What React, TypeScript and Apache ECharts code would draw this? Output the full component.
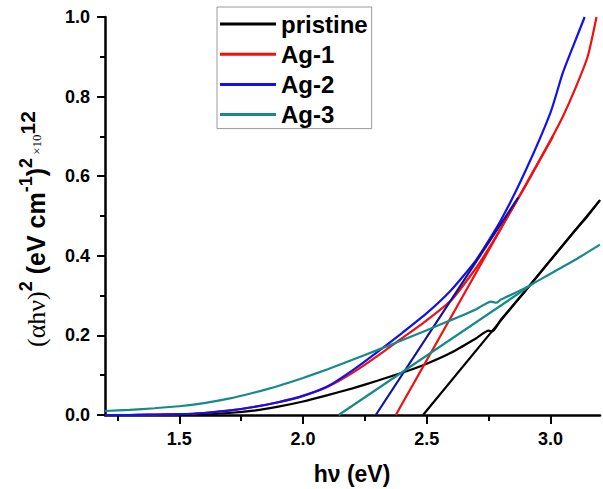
import React, { useEffect, useRef } from "react";
import * as echarts from "echarts";

// ---- data ----
const pristineE = [1.2, 1.3, 1.4, 1.5, 1.6, 1.7, 1.8, 1.9, 2.0, 2.1, 2.2, 2.3, 2.4, 2.5, 2.6, 2.7, 2.75, 2.765, 2.8, 2.9, 3.0, 3.1, 3.15, 3.2];
const pristineY = [0.0, 0.0, 0.0, 0.001, 0.002, 0.005, 0.011, 0.021, 0.034, 0.05, 0.067, 0.086, 0.106, 0.129, 0.157, 0.193, 0.212, 0.21, 0.24, 0.313, 0.389, 0.464, 0.5, 0.54];
const pristineFitE = [2.485, 3.2];
const pristineFitY = [0.0, 0.54];

const ag1E = [1.2, 1.3, 1.4, 1.5, 1.6, 1.7, 1.8, 1.9, 2.0, 2.1, 2.2, 2.3, 2.4, 2.5, 2.6, 2.7, 2.75, 2.8, 2.9, 3.0, 3.05, 3.1, 3.15, 3.186];
const ag1Y = [0.0, 0.0, 0.001, 0.002, 0.005, 0.011, 0.02, 0.032, 0.048, 0.071, 0.106, 0.148, 0.193, 0.238, 0.289, 0.37, 0.418, 0.47, 0.577, 0.69, 0.75, 0.82, 0.9, 1.0];
const ag1FitE = [2.375, 3.01];
const ag1FitY = [0.0, 0.7];

const ag2E = [1.2, 1.3, 1.4, 1.5, 1.6, 1.7, 1.8, 1.9, 2.0, 2.1, 2.2, 2.3, 2.4, 2.5, 2.6, 2.7, 2.8, 2.9, 3.0, 3.05, 3.1, 3.138];
const ag2Y = [0.0, 0.0, 0.001, 0.002, 0.005, 0.011, 0.02, 0.032, 0.048, 0.072, 0.112, 0.158, 0.206, 0.256, 0.315, 0.39, 0.49, 0.615, 0.76, 0.86, 0.94, 1.0];
const ag2FitE = [2.294, 2.87];
const ag2FitY = [0.0, 0.547];

const ag3E = [1.2, 1.3, 1.4, 1.5, 1.6, 1.7, 1.8, 1.9, 2.0, 2.1, 2.2, 2.3, 2.4, 2.5, 2.6, 2.7, 2.76, 2.78, 2.8, 2.9, 3.0, 3.1, 3.2];
const ag3Y = [0.01, 0.013, 0.017, 0.022, 0.03, 0.041, 0.056, 0.073, 0.093, 0.115, 0.139, 0.163, 0.188, 0.213, 0.239, 0.266, 0.285, 0.282, 0.29, 0.32, 0.355, 0.39, 0.428];
const ag3FitE = [2.144, 2.93];
const ag3FitY = [0.0, 0.33];

const seriesNames = ["pristine", "Ag-1", "Ag-2", "Ag-3"];
const xMajorTicks = [1.5, 2.0, 2.5, 3.0];
const xMinorTicks = [1.25, 1.75, 2.25, 2.75];

const zip = (xs: number[], ys: number[]) => xs.map((x, i) => [x, ys[i]]);

const FONT = "Liberation Sans";

export default function App() {
  const ref = useRef<HTMLDivElement>(null);

  useEffect(() => {
    if (!ref.current) return;
    const chart = echarts.init(ref.current, undefined, { renderer: "svg" });

    const curve = (name: string, data: number[][], color: string, z: number) => ({
      name,
      type: "line",
      data,
      symbol: "none",
      smooth: 0.2,
      z,
      lineStyle: { color, width: 2.2 },
      itemStyle: { color },
    });
    const fit = (name: string, data: number[][], color: string, z: number) => ({
      name,
      type: "line",
      data,
      symbol: "none",
      z,
      lineStyle: { color, width: 2.2 },
      itemStyle: { color },
    });

    const black = "#000000";
    const red = "#f01010";
    const blue = "#1010f0";
    const teal = "#168a8a";
    const darkBlue = "#12129a";

    chart.setOption({
      animation: false,
      backgroundColor: "#ffffff",
      grid: { left: 105, right: 3, top: 17, bottom: 74 },
      legend: {
        data: seriesNames,
        orient: "vertical",
        left: 217,
        top: 7,
        icon: "rect",
        itemWidth: 56,
        itemHeight: 3,
        itemGap: 6.2,
        padding: [5, 4, 2, 3],
        borderColor: "#9a9a9a",
        borderWidth: 1,
        textStyle: { fontFamily: FONT, fontSize: 24, fontWeight: "bold", color: "#000", lineHeight: 24 },
      },
      xAxis: [
        {
          type: "value",
          min: 1.2,
          max: 3.2,
          axisLine: { show: true, onZero: false, lineStyle: { color: "#000", width: 2.5 } },
          axisTick: { show: true, length: 9, customValues: xMajorTicks, lineStyle: { color: "#000", width: 2 } },
          axisLabel: {
            customValues: xMajorTicks,
            margin: 15,
            fontFamily: FONT,
            fontSize: 18,
            fontWeight: "bold",
            color: "#000",
            formatter: (v: number) => v.toFixed(1),
          },
          splitLine: { show: false },
        },
        {
          type: "value",
          min: 1.2,
          max: 3.2,
          position: "bottom",
          axisLine: { show: false },
          axisTick: { show: true, length: 6, customValues: xMinorTicks, lineStyle: { color: "#000", width: 2 } },
          axisLabel: { show: false },
          splitLine: { show: false },
        },
      ],
      yAxis: {
        type: "value",
        min: 0,
        max: 1,
        interval: 0.2,
        axisLine: { show: true, lineStyle: { color: "#000", width: 2.5 } },
        axisTick: { show: true, length: 8, lineStyle: { color: "#000", width: 2 } },
        minorTick: { show: true, splitNumber: 2, length: 5, lineStyle: { color: "#000", width: 2 } },
        axisLabel: {
          margin: 15,
          fontFamily: FONT,
          fontSize: 18,
          fontWeight: "bold",
          color: "#000",
          formatter: (v: number) => v.toFixed(1),
        },
        splitLine: { show: false },
      },
      series: [
        curve(seriesNames[0], zip(pristineE, pristineY), black, 2),
        fit("pristine fit", zip(pristineFitE, pristineFitY), black, 2),
        curve(seriesNames[1], zip(ag1E, ag1Y), red, 3),
        fit("Ag-1 fit", zip(ag1FitE, ag1FitY), red, 3),
        curve(seriesNames[2], zip(ag2E, ag2Y), blue, 4),
        fit("Ag-2 fit", zip(ag2FitE, ag2FitY), darkBlue, 4),
        curve(seriesNames[3], zip(ag3E, ag3Y), teal, 5),
        fit("Ag-3 fit", zip(ag3FitE, ag3FitY), teal, 5),
      ],
      graphic: [
        {
          type: "text",
          x: 352,
          y: 474,
          style: {
            text: "hν (eV)",
            fontFamily: FONT,
            fontSize: 23,
            fontWeight: "bold",
            fill: "#000",
            align: "center",
            verticalAlign: "middle",
          },
        },
        {
          type: "text",
          x: 36,
          y: 229,
          rotation: Math.PI / 2,
          style: {
            text: "{a|(αhν)}{s|2}{b| (eV cm}{s|-1}{b|)}{s|2}{c| ×10}{e|12}",
            align: "center",
            verticalAlign: "middle",
            fill: "#000",
            rich: {
              a: { fontFamily: "Liberation Serif", fontSize: 26, fontWeight: "normal", fill: "#000", lineHeight: 38, verticalAlign: "middle" },
              b: { fontFamily: FONT, fontSize: 25, fontWeight: "bold", fill: "#000", lineHeight: 38, verticalAlign: "middle" },
              s: { fontFamily: FONT, fontSize: 18, fontWeight: "bold", fill: "#000", lineHeight: 38, verticalAlign: "top" },
              c: { fontFamily: "Liberation Serif", fontSize: 13, fontWeight: "normal", fill: "#000", lineHeight: 38, verticalAlign: "middle" },
              e: { fontFamily: FONT, fontSize: 21, fontWeight: "bold", fill: "#000", lineHeight: 38, verticalAlign: "top" },
            },
          },
        },
      ],
    });

    return () => chart.dispose();
  }, []);

  return <div ref={ref} style={{ position: "fixed", left: 0, top: 0, width: 603, height: 489 }} />;
}
